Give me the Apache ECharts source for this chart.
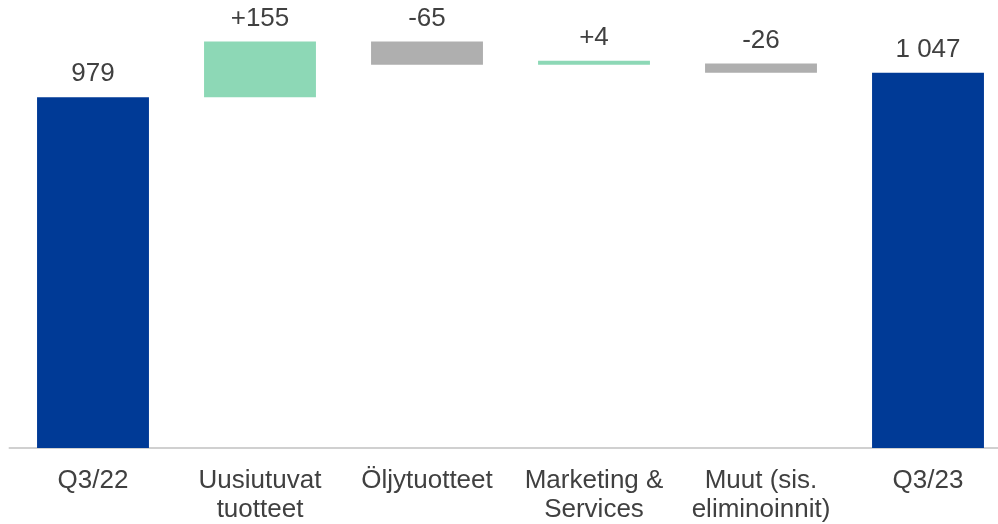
<!DOCTYPE html>
<html>
<head>
<meta charset="utf-8">
<script src="https://cdn.jsdelivr.net/npm/echarts@6/dist/echarts.min.js"></script>
<style>
html,body{margin:0;padding:0;background:#fff;}
#chart{width:998px;height:524px;}
</style>
</head>
<body>
<div id="chart"></div>
<script>
const categories = ['Q3/22', 'Uusiutuvat\ntuotteet', 'Öljytuotteet', 'Marketing &\nServices', 'Muut (sis.\neliminoinnit)', 'Q3/23'];
const changes = [979, 155, -65, 4, -26, 1047];
const isTotal = [true, false, false, false, false, true];
const valueLabels = ['979', '+155', '-65', '+4', '-26', '1 047'];

const COLOR_TOTAL = '#003A96';
const COLOR_UP = '#8DD8B6';
const COLOR_DOWN = '#AFAFAF';

// waterfall: invisible base + visible bar
const baseData = [];
const barData = [];
let running = 0;
changes.forEach((v, i) => {
  if (isTotal[i]) {
    running = v;
    baseData.push(0);
    barData.push({ value: v, itemStyle: { color: COLOR_TOTAL, borderColor: COLOR_TOTAL } });
  } else {
    const prev = running;
    running = prev + v;
    baseData.push(Math.min(prev, running));
    const c = v >= 0 ? COLOR_UP : COLOR_DOWN;
    barData.push({ value: Math.abs(v), itemStyle: { color: c, borderColor: c } });
  }
});

const chart = echarts.init(document.getElementById('chart'), null, { renderer: 'canvas' });
chart.setOption({
  animation: false,
  grid: { left: 9.5, top: 0, width: 1002, bottom: 76, containLabel: false, outerBoundsMode: 'none' },
  xAxis: {
    type: 'category',
    data: categories,
    axisLine: { show: true, lineStyle: { color: '#D0D0D0', width: 2 } },
    axisTick: { show: false },
    axisLabel: {
      interval: 0,
      margin: 18,
      color: '#404040',
      fontFamily: 'Liberation Sans, Arial, sans-serif',
      fontSize: 26,
      lineHeight: 29,
      align: 'center'
    }
  },
  yAxis: {
    type: 'value',
    min: 0,
    max: 1250,
    show: false,
    splitLine: { show: false }
  },
  series: [
    {
      type: 'bar',
      stack: 'wf',
      data: baseData,
      itemStyle: { color: 'transparent' },
      barWidth: '67%',
      silent: true
    },
    {
      type: 'bar',
      stack: 'wf',
      data: barData,
      barWidth: '67%',
      barMinHeight: 4,
      itemStyle: { borderWidth: 1.5 },
      label: {
        show: true,
        position: 'top',
        distance: 10,
        color: '#404040',
        fontFamily: 'Liberation Sans, Arial, sans-serif',
        fontSize: 26,
        lineHeight: 26,
        formatter: p => valueLabels[p.dataIndex]
      }
    }
  ]
});
</script>
</body>
</html>
